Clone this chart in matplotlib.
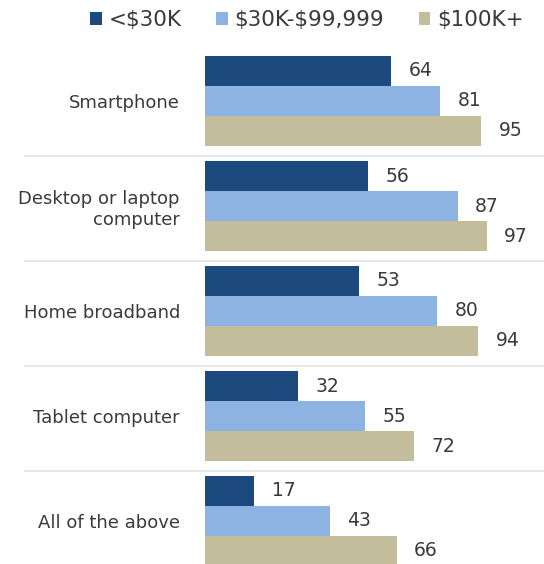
import matplotlib
matplotlib.use("Agg")
import matplotlib.pyplot as plt
from matplotlib.patches import Patch
import numpy as np

categories = ["Smartphone", "Desktop or laptop\ncomputer", "Home broadband",
              "Tablet computer", "All of the above"]
series_names = ["<\\$30K", "\\$30K-\\$99,999", "\\$100K+"]
low_income = [64, 56, 53, 32, 17]
mid_income = [81, 87, 80, 55, 43]
high_income = [95, 97, 94, 72, 66]

colors = ["#1d4a7e", "#8db3e2", "#c3bd9c"]
text_color = "#3a3a3a"

W, H = 544, 564
fig = plt.figure(figsize=(W / 100, H / 100), dpi=100)
# axes from bar origin (x=205px) to right edge, full height
ax = fig.add_axes([205 / W, 0, 1 - 205 / W, 1])

px_per_unit = 2.905
ax.set_xlim(0, (W - 205) / px_per_unit)
pitch = 105.0
first_center = 101.0
ax.set_ylim((H - first_center) / pitch, -first_center / pitch)

bar_h = 30 / pitch
y = np.arange(len(categories))
for k, vals in enumerate([low_income, mid_income, high_income]):
    pos = y + (k - 1) * bar_h
    ax.barh(pos, vals, height=bar_h, color=colors[k], label=series_names[k])
    for p, v in zip(pos, vals):
        ax.text(v + 6.0, p, str(v), va="center", ha="left",
                fontsize=13.5, color=text_color)

# separators between groups
for i in range(len(categories) - 1):
    ax.axhline(i + 0.52, xmin=(25 - 205) / (W - 205), xmax=1,
               color="#e3e3e3", linewidth=1.2, clip_on=False)

ax.set_yticks(y)
ax.set_yticklabels(categories, fontsize=13, color=text_color)
ax.tick_params(axis="y", length=0, pad=18)
ax.set_xticks([])
for s in ax.spines.values():
    s.set_visible(False)

handles = [Patch(facecolor=c, edgecolor="none") for c in colors]
fig.legend(handles, series_names, loc="center", ncol=3,
           bbox_to_anchor=(307 / W, 1 - 20 / H), frameon=False,
           fontsize=15.5, handlelength=0.55, handleheight=0.55,
           handletextpad=0.3, columnspacing=1.6, labelcolor=text_color)

fig.savefig("out.png", dpi=100)
